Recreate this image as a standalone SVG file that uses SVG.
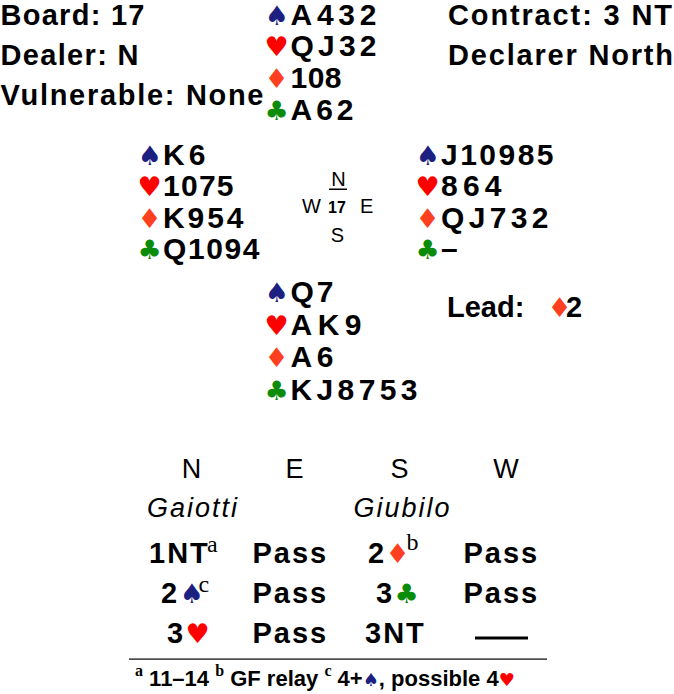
<svg xmlns="http://www.w3.org/2000/svg" width="674" height="694" viewBox="0 0 674 694">
<style>
text{font-family:"Liberation Sans",Arial,Helvetica,sans-serif;fill:#000}
.b{font-weight:bold;font-size:29px}
.hand{font-weight:bold;font-size:30px}
.suit{font-family:"DejaVu Sans",sans-serif;font-size:27px;font-weight:normal;letter-spacing:0}
.sp{fill:#1c2080}.he{fill:#ff0000}.di{fill:#ff4020}.cl{fill:#0a8c0a}
.cmp{font-size:20px}
.cmpb{font-size:16px;font-weight:bold}
.hd{font-size:27px;text-anchor:middle}
.it{font-size:27px;font-style:italic;text-anchor:middle;letter-spacing:2px}
.bid{font-weight:bold;font-size:29px;letter-spacing:2px}
.sup{font-family:"Liberation Serif","Times New Roman",serif;font-weight:normal;font-size:24px;letter-spacing:0}
.fn{font-weight:bold;font-size:22px}
.fsup{font-family:"Liberation Serif","Times New Roman",serif;font-weight:bold;font-size:16px}
.fsuit{font-family:"DejaVu Sans",sans-serif;font-size:18px;font-weight:normal}
</style>
<g id="header">
<text class="b" x="0.5" y="24.5" textLength="144" lengthAdjust="spacing">Board: 17</text>
<text class="b" x="0.5" y="64.5" textLength="138" lengthAdjust="spacing">Dealer: N</text>
<text class="b" x="0.5" y="105" textLength="263" lengthAdjust="spacing">Vulnerable: None</text>
<text class="b" x="448" y="24.5" textLength="224" lengthAdjust="spacing">Contract: 3 NT</text>
<text class="b" x="448" y="64.5" textLength="225" lengthAdjust="spacing">Declarer North</text>
</g>
<g id="north">
<text class="suit sp" x="264.5" y="24.5">♠</text><text class="hand" x="290.5" y="24.5" textLength="86" lengthAdjust="spacing">A432</text>
<text class="suit he" x="264.5" y="56">♥</text><text class="hand" x="290.5" y="56" textLength="86" lengthAdjust="spacing">QJ32</text>
<text class="suit di" x="264.5" y="88">♦</text><text class="hand" x="290.5" y="88" textLength="51" lengthAdjust="spacing">108</text>
<text class="suit cl" x="264.5" y="120">♣</text><text class="hand" x="290.5" y="120" textLength="63" lengthAdjust="spacing">A62</text>
</g>
<g id="west">
<text class="suit sp" x="137.5" y="165">♠</text><text class="hand" x="163" y="165" textLength="42.5" lengthAdjust="spacing">K6</text>
<text class="suit he" x="137.5" y="196">♥</text><text class="hand" x="163" y="196" textLength="70.5" lengthAdjust="spacing">1075</text>
<text class="suit di" x="137.5" y="227.5">♦</text><text class="hand" x="163" y="227.5" textLength="80.5" lengthAdjust="spacing">K954</text>
<text class="suit cl" x="137.5" y="259">♣</text><text class="hand" x="163" y="259" textLength="96.5" lengthAdjust="spacing">Q1094</text>
</g>
<g id="east">
<text class="suit sp" x="415.5" y="165">♠</text><text class="hand" x="441" y="165" textLength="112.5" lengthAdjust="spacing">J10985</text>
<text class="suit he" x="415.5" y="196">♥</text><text class="hand" x="441" y="196" textLength="60.5" lengthAdjust="spacing">864</text>
<text class="suit di" x="415.5" y="227.5">♦</text><text class="hand" x="441" y="227.5" textLength="107.5" lengthAdjust="spacing">QJ732</text>
<text class="suit cl" x="415.5" y="259">♣</text><text class="hand" x="441" y="259">–</text>
</g>
<g id="south">
<text class="suit sp" x="264.5" y="302">♠</text><text class="hand" x="290.5" y="302" textLength="43" lengthAdjust="spacing">Q7</text>
<text class="suit he" x="264.5" y="334.5">♥</text><text class="hand" x="290.5" y="334.5" textLength="71" lengthAdjust="spacing">AK9</text>
<text class="suit di" x="264.5" y="367">♦</text><text class="hand" x="290.5" y="367" textLength="43" lengthAdjust="spacing">A6</text>
<text class="suit cl" x="264.5" y="399.5">♣</text><text class="hand" x="290.5" y="399.5" textLength="127" lengthAdjust="spacing">KJ8753</text>
</g>
<g id="compass">
<text class="cmp" x="338.5" y="186" text-anchor="middle">N</text>
<rect x="329" y="188.5" width="18" height="1.5" fill="#000"/>
<text class="cmp" x="302" y="213">W</text>
<text class="cmpb" x="328" y="213">17</text>
<text class="cmp" x="360" y="213">E</text>
<text class="cmp" x="337.5" y="242" text-anchor="middle">S</text>
</g>
<g id="lead">
<text class="b" x="447" y="317">Lead:<tspan class="suit di" x="547.5" y="317">♦</tspan><tspan x="566" y="317">2</tspan></text>
</g>
<g id="auction">
<text class="hd" x="191.5" y="478">N</text>
<text class="hd" x="294.5" y="478">E</text>
<text class="hd" x="399.5" y="478">S</text>
<text class="hd" x="506" y="478">W</text>
<text class="it" x="193" y="517">Gaiotti</text>
<text class="it" x="402.5" y="517">Giubilo</text>
<text class="bid" x="149" y="563">1NT<tspan class="sup" x="207" y="552">a</tspan></text>
<text class="bid" x="252.5" y="563">Pass</text>
<text class="bid" x="368" y="563">2<tspan class="suit di" x="385.5" y="563">♦</tspan><tspan class="sup" x="406.5" y="550">b</tspan></text>
<text class="bid" x="463.5" y="563">Pass</text>
<text class="bid" x="161" y="603">2<tspan class="suit sp" x="179.5" y="603">♠</tspan><tspan class="sup" x="198.5" y="592">c</tspan></text>
<text class="bid" x="252.5" y="603">Pass</text>
<text class="bid" x="376" y="603">3<tspan class="suit cl" x="394.5" y="603">♣</tspan></text>
<text class="bid" x="463.5" y="603">Pass</text>
<text class="bid" x="167" y="643">3<tspan class="suit he" x="185.5" y="643">♥</tspan></text>
<text class="bid" x="252.5" y="643">Pass</text>
<text class="bid" x="365" y="643">3NT</text>
<rect x="475" y="636.5" width="53" height="3" fill="#000"/>
</g>
<g id="footnote">
<rect x="129" y="658.5" width="418" height="1.2" fill="#000"/>
<text class="fn" x="135" y="686"><tspan class="fsup" dy="-10">a</tspan><tspan dy="10"> 11–14 </tspan><tspan class="fsup" dy="-10">b</tspan><tspan dy="10"> GF relay </tspan><tspan class="fsup" dy="-10">c</tspan><tspan dy="10"> 4+</tspan><tspan class="fsuit sp">♠</tspan>, possible 4<tspan class="fsuit he">♥</tspan></text>
</g>
</svg>
